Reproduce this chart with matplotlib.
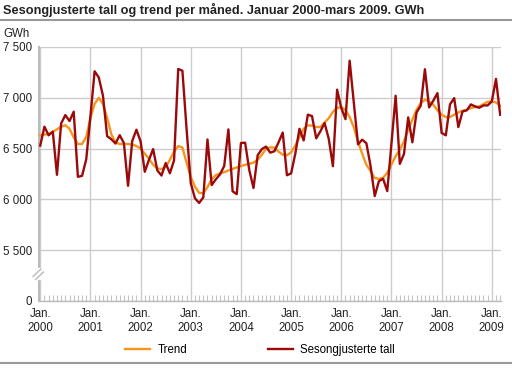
import numpy as np
import matplotlib.pyplot as plt
from matplotlib.lines import Line2D

plt.rcParams['font.family'] = ['Liberation Sans', 'DejaVu Sans']

# GWh per month, Jan 2000 - Mar 2009
trend = [6630, 6638, 6645, 6665, 6690, 6715, 6730, 6695, 6610, 6545, 6545, 6615,
         6800, 6940, 7000, 6940, 6800, 6640, 6560, 6545, 6545, 6545, 6540, 6525,
         6500, 6450, 6400, 6340, 6305, 6298, 6320, 6390, 6470, 6525, 6510, 6360,
         6220, 6125, 6065, 6060, 6120, 6200, 6240, 6255, 6268, 6285, 6300, 6315,
         6328, 6340, 6350, 6362, 6390, 6440, 6498, 6512, 6510, 6470, 6440, 6435,
         6462, 6530, 6615, 6695, 6730, 6725, 6712, 6712, 6755, 6800, 6862, 6900,
         6908, 6880, 6810, 6710, 6568, 6450, 6340, 6280, 6210, 6203, 6213, 6262,
         6344, 6425, 6490, 6572, 6687, 6784, 6882, 6948, 6981, 6964, 6932, 6876,
         6834, 6811, 6811, 6834, 6856, 6873, 6882, 6899, 6909, 6915, 6938, 6961,
         6964, 6954, 6922]

sesong = [6530, 6716, 6631, 6667, 6242, 6748, 6830, 6771, 6863, 6222, 6232, 6395,
          6817, 7261, 7200, 7020, 6622, 6592, 6550, 6632, 6555, 6134, 6575, 6686,
          6570, 6272, 6390, 6495, 6285, 6235, 6358, 6257, 6384, 7284, 7266, 6690,
          6160, 6011, 5965, 6020, 6590, 6141, 6198, 6247, 6329, 6689, 6080, 6052,
          6555, 6558, 6288, 6112, 6435, 6495, 6520, 6460, 6474, 6562, 6658, 6238,
          6256, 6450, 6695, 6580, 6834, 6820, 6601, 6670, 6752, 6597, 6327, 7080,
          6900, 6790, 7365, 6950, 6542, 6588, 6553, 6330, 6033, 6180, 6203, 6082,
          6550, 7020, 6350, 6448, 6807, 6562, 6856, 6922, 7281, 6905, 6971, 7046,
          6654, 6631, 6935, 6997, 6712, 6866, 6876, 6935, 6915, 6902, 6925, 6925,
          6964, 7186, 6833]

years = [str(y) for y in range(2000, 2010)]
yticks = [5000, 5500, 6000, 6500, 7000, 7500]
ylabels = ['0', '5 500', '6 000', '6 500', '7 000', '7 500']

months = np.arange(len(trend))
W, H = 512, 369

fig = plt.figure(figsize=(W / 100, H / 100), dpi=100)
ax = fig.add_axes([39 / W, 1 - 301 / H, (501 - 39) / W, (301 - 47) / H])

ax.plot(months, trend, color='#f7941d', lw=1.7, zorder=3, label='Trend')
ax.plot(months, sesong, color='#9b0a0a', lw=1.7, zorder=4, label='Sesongjusterte tall')

ax.set_xlim(-0.3, 110.2)
ax.set_ylim(5000, 7500)
ax.set_yticks(yticks)
ax.set_yticklabels(ylabels)
ax.set_xticks(np.arange(0, 12 * len(years), 12))
ax.set_xticklabels(['Jan.\n' + y for y in years])
ax.set_xticks(months, minor=True)

ax.grid(True, which='major', color='#cccccc', lw=1.0, zorder=0)
ax.tick_params(axis='both', which='major', length=0, labelsize=8.3, colors='#222222')
ax.tick_params(axis='x', which='major', pad=5)
ax.tick_params(axis='y', which='major', pad=5)
ax.tick_params(axis='x', which='minor', direction='in', length=4, color='#c4c4c4', width=0.8)
ax.tick_params(axis='y', which='minor', length=0)

for s in ['top', 'right']:
    ax.spines[s].set_visible(False)
ax.spines['left'].set_color('#bbbbbb')
ax.spines['left'].set_linewidth(1.5)
ax.spines['bottom'].set_color('#bbbbbb')
ax.spines['bottom'].set_linewidth(1.0)

# axis break on the y axis
fig.add_artist(Line2D([39 / W, 39 / W], [1 - 270 / H, 1 - 278 / H], color='white', lw=3))
fig.add_artist(Line2D([33 / W, 41 / W], [1 - 276.5 / H, 1 - 269 / H], color='#bbbbbb', lw=1))
fig.add_artist(Line2D([35.5 / W, 43.5 / W], [1 - 279.5 / H, 1 - 272 / H], color='#bbbbbb', lw=1))

fig.text(3 / W, 1 - 10 / H, 'Sesongjusterte tall og trend per måned. Januar 2000-mars 2009. GWh',
         fontsize=9.2, fontweight='bold', va='center', color='#222222')
fig.add_artist(Line2D([0, 1], [1 - 20 / H, 1 - 20 / H], color='#999999', lw=1.5))
fig.text(3 / W, 1 - 34 / H, 'GWh', fontsize=8.3, va='center', color='#222222')
fig.add_artist(Line2D([0, 1], [1 - 363 / H, 1 - 363 / H], color='#999999', lw=1.5))

fig.legend(loc='center', bbox_to_anchor=(260 / W, 1 - 350 / H), ncol=2, frameon=False,
           fontsize=8.3, handlelength=2.2, handletextpad=0.6, columnspacing=7)

fig.savefig('out.png', dpi=100)
